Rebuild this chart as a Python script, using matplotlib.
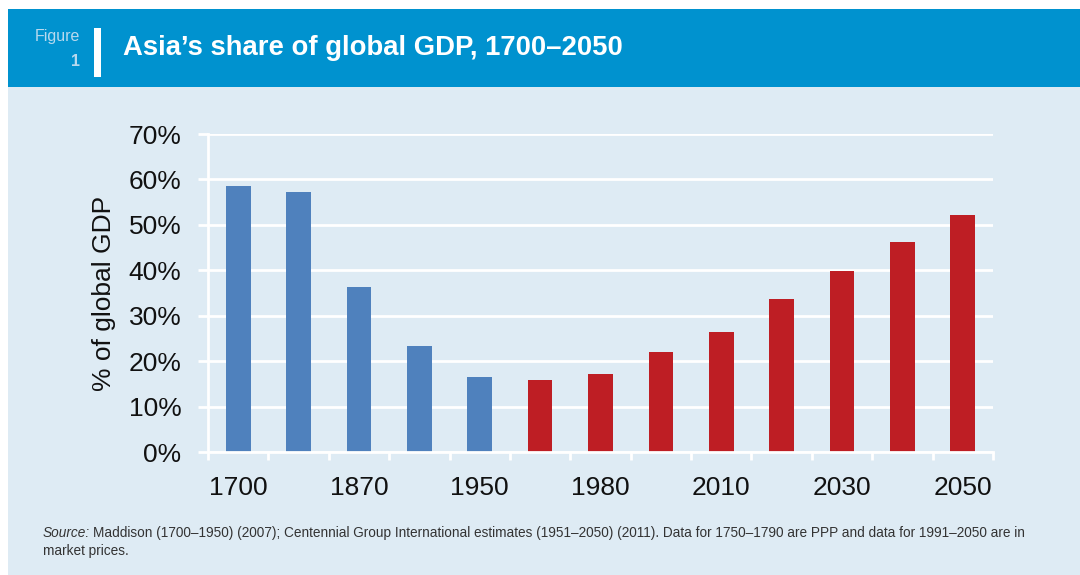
import numpy as np
import matplotlib
matplotlib.use("Agg")
import matplotlib.pyplot as plt
from matplotlib.patches import Rectangle
from matplotlib.ticker import FixedLocator, FuncFormatter

# data
tick_labels = ["1700", "", "1870", "", "1950", "", "1980", "", "2010", "", "2030", "", "2050"]
share = [58.5, 57.2, 36.3, 23.4, 16.6, 15.9, 17.2, 22.1, 26.5, 33.7, 39.9, 46.3, 52.2]
n_historic = 5   # first bars are Maddison (blue), rest are estimates (red)

title = "Asia\u2019s share of global GDP, 1700\u20132050"
ylabel = "% of global GDP"
source = ("Maddison (1700\u20131950) (2007); Centennial Group International estimates "
          "(1951\u20132050) (2011). Data for 1750\u20131790 are PPP and data for 1991\u20132050 are in")
source2 = "market prices."

header_col = "#0092cf"
panel_col = "#deebf4"
blue = "#4f81bd"
red = "#be1e24"

plt.rcParams['font.family'] = ['Liberation Sans', 'DejaVu Sans']

fig = plt.figure(figsize=(10.8, 5.75), dpi=100)
W, H = 1080., 575.

def box(x0, y0, x1, y1, col, z=-10):
    fig.patches.append(Rectangle((x0 / W, 1 - y1 / H), (x1 - x0) / W, (y1 - y0) / H,
                                 transform=fig.transFigure, facecolor=col,
                                 edgecolor='none', zorder=z))

box(8, 9, 1080, 87, header_col)
box(8, 87, 1080, 575, panel_col)
box(94, 28, 101, 77, "white", z=-9)

fig.text(80 / W, 1 - 36 / H, "Figure", color="#b7d9ee", fontsize=11.5,
         ha='right', va='center')
fig.text(80 / W, 1 - 62 / H, "1", color="#b7d9ee", fontsize=11.5, fontweight='bold',
         ha='right', va='center')
fig.text(123 / W, 1 - 48 / H, title, color="white", fontsize=19.8, fontweight='bold',
         ha='left', va='center')

ax = fig.add_axes([208 / W, 1 - 452.3 / H, 785 / W, 318.3 / H])
ax.set_facecolor('none')

x = np.arange(len(share))
colors = [blue if i < n_historic else red for i in x]
ax.bar(x, share, width=0.41, color=colors, zorder=2)

ax.set_xlim(-0.5, len(share) - 0.5)
ax.set_ylim(0, 70)
ax.set_yticks(np.arange(0, 71, 10))
ax.yaxis.set_major_formatter(FuncFormatter(lambda v, p: "%d%%" % v))
ax.grid(axis='y', color='white', linewidth=2, zorder=1)
ax.set_axisbelow(True)

ax.set_xticks(x)
ax.set_xticklabels(tick_labels)
ax.xaxis.set_minor_locator(FixedLocator(np.arange(-0.5, len(share), 1.0)))
ax.tick_params(axis='x', which='major', length=0, pad=17, labelsize=19, labelcolor='#111111')
ax.tick_params(axis='x', which='minor', length=6, width=2, color='white', direction='out')
ax.tick_params(axis='y', length=7, width=2, color='white', pad=12, labelsize=19,
               labelcolor='#111111')

for s in ['top', 'right']:
    ax.spines[s].set_visible(False)
for s in ['left', 'bottom']:
    ax.spines[s].set_color('white')
    ax.spines[s].set_linewidth(2)

ax.set_ylabel(ylabel, fontsize=19, color='#111111')
ax.yaxis.set_label_coords(-0.117, 0.5)

t = fig.text(43 / W, 1 - 533 / H, "Source:", style='italic', fontsize=9.8, color='#333333',
             va='center')
fig.canvas.draw()
bb = t.get_window_extent()
fig.text(bb.x1 / W + 3 / W, 1 - 533 / H, source, fontsize=9.8, color='#333333',
         va='center')
fig.text(43 / W, 1 - 551 / H, source2, fontsize=9.8, color='#333333', va='center')

fig.savefig("out.png", dpi=100)
